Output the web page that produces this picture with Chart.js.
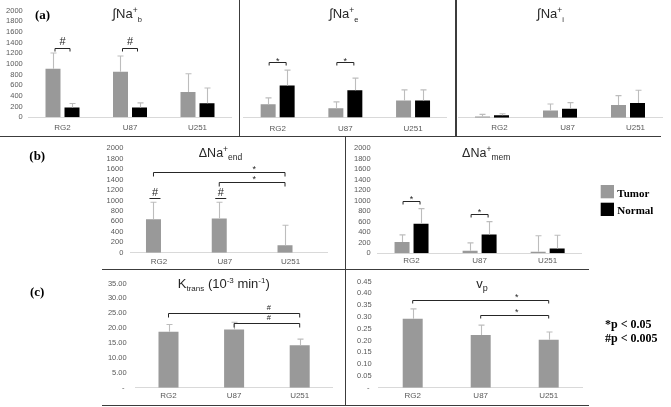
<!DOCTYPE html>
<html><head><meta charset="utf-8">
<script src="https://cdn.jsdelivr.net/npm/chart.js@4.4.0/dist/chart.umd.min.js"></script>
<style>
html,body{margin:0;padding:0;background:#fff;}
#fig{position:relative;width:671px;height:407px;overflow:hidden;background:#fff;}
canvas{position:absolute;}
.ln{position:absolute;background:#3c3c3c;}
</style></head><body>
<div id="fig">
<canvas id="a1" width="239" height="136" style="left:0px;top:0px"></canvas>
<canvas id="a2" width="215" height="136" style="left:240px;top:0px"></canvas>
<canvas id="a3" width="214" height="136" style="left:457px;top:0px"></canvas>
<canvas id="b1" width="345" height="132" style="left:0px;top:137px"></canvas>
<canvas id="b2" width="325" height="132" style="left:346px;top:137px"></canvas>
<canvas id="c1" width="345" height="135" style="left:0px;top:270px"></canvas>
<canvas id="c2" width="325" height="135" style="left:346px;top:270px"></canvas>
<div class="ln" style="left:238.5px;top:0px;width:1.5px;height:136.5px"></div>
<div class="ln" style="left:455px;top:0px;width:1.5px;height:136.5px"></div>
<div class="ln" style="left:0px;top:135.5px;width:661px;height:1.5px"></div>
<div class="ln" style="left:344.5px;top:136px;width:1.5px;height:269.5px"></div>
<div class="ln" style="left:102px;top:268.5px;width:487px;height:1.5px"></div>
<div class="ln" style="left:102px;top:404.5px;width:487px;height:1.5px"></div>
</div>
<script>
// ---------------- data ----------------
const categories = ['RG2', 'U87', 'U251'];
const groupNames = ['Tumor', 'Normal'];

const naBTumor = [907, 852, 474];
const naBTumorSD = [297, 296, 341];
const naBNormal = [185, 185, 265];
const naBNormalSD = [74, 85, 283];

const naETumor = [246, 172, 315];
const naETumorSD = [117, 117, 196];
const naENormal = [593, 506, 315];
const naENormalSD = [283, 222, 196];

const naITumor = [24, 135, 233];
const naITumorSD = [37, 117, 174];
const naINormal = [43, 167, 270];
const naINormalSD = [31, 111, 236];

const dNaEndTumor = [639, 657, 143];
const dNaEndTumorSD = [327, 309, 384];
const dNaEndNormal = [null, null, null];

const dNaMemTumor = [215, 48, 30];
const dNaMemTumorSD = [136, 150, 303];
const dNaMemNormal = [561, 357, 93];
const dNaMemNormalSD = [290, 246, 251];

const kTrans = [18.8, 19.55, 14.3];
const kTransSD = [2.45, 2.45, 2.0];
const vP = [0.2925, 0.223, 0.203];
const vPSD = [0.0415, 0.042, 0.033];

// axis ranges / tick steps
const naAxis = {max: 2000, step: 200};
const kAxis = {max: 35, step: 5};
const vAxis = {max: 0.45, step: 0.05};

// significance markers: [category, series] pairs and bracket level (data units)
const sigNaB = [
  {a: [0, 0], b: [0, 1], level: 1300, mark: '#'},
  {a: [1, 0], b: [1, 1], level: 1300, mark: '#'}
];
const sigNaE = [
  {a: [0, 0], b: [0, 1], level: 1030, mark: '*'},
  {a: [1, 0], b: [1, 1], level: 1030, mark: '*'}
];
const sigEnd = [
  {over: [0, 0], level: 1053, mark: '#'},
  {over: [1, 0], level: 1053, mark: '#'},
  {a: [0, 0], b: [2, 0], level: 1554, mark: '*', at: [1, 2]},
  {a: [1, 0], b: [2, 0], level: 1350, mark: '*', at: [1, 2]}
];
const sigMem = [
  {a: [0, 0], b: [0, 1], level: 1005, mark: '*'},
  {a: [1, 0], b: [1, 1], level: 752, mark: '*'}
];
const sigK = [
  {a: [0, 0], b: [2, 0], level: 25.24, mark: '#', at: [1, 2]},
  {a: [1, 0], b: [2, 0], level: 21.8, mark: '#', at: [1, 2]}
];
const sigV = [
  {a: [0, 0], b: [2, 0], level: 0.3706, mark: '*', at: [1, 2]},
  {a: [1, 0], b: [2, 0], level: 0.308, mark: '*', at: [1, 2]}
];
const pNotes = ['*p < 0.05', '#p < 0.005'];

// ---------------- styles ----------------
const SANS = '"Liberation Sans", Arial, Helvetica, sans-serif';
const SERIF = '"Liberation Serif", "Times New Roman", Times, serif';
const GRAY = '#999999', BLACK = '#000000', ERR = '#bdbdbd', INK = '#262626', TICK = '#595959';
Chart.defaults.font.family = SANS;

const DECO = {};

function drawRich(ctx, parts, cx, by, color) {
  let w = 0;
  const items = parts.map(([t, k, fs]) => {
    ctx.font = fs + 'px ' + SANS;
    const mw = ctx.measureText(t).width; w += mw;
    return {t, k, fs, mw};
  });
  const main = parts[0][2];
  let x = cx - w / 2;
  ctx.fillStyle = color; ctx.textAlign = 'left'; ctx.textBaseline = 'alphabetic';
  items.forEach(it => {
    ctx.font = it.fs + 'px ' + SANS;
    const dy = it.k === 'sup' ? -0.4 * main : it.k === 'sub' ? 0.26 * main : 0;
    ctx.fillText(it.t, x, by + dy);
    x += it.mw;
  });
}

const decoPlugin = {
  id: 'deco',
  afterDatasetsDraw(chart) {
    const ctx = chart.ctx, ys = chart.scales.y;
    chart.data.datasets.forEach((ds, di) => {
      if (!ds.errors) return;
      const meta = chart.getDatasetMeta(di);
      meta.data.forEach((bar, i) => {
        const v = ds.data[i], e = ds.errors[i];
        if (v == null || e == null) return;
        const yt = ys.getPixelForValue(v + e);
        const x = Math.round(bar.x) + 0.5;
        ctx.save();
        ctx.strokeStyle = ERR; ctx.lineWidth = 1.1;
        ctx.beginPath();
        ctx.moveTo(x, bar.y); ctx.lineTo(x, yt);
        ctx.moveTo(x - 3, yt); ctx.lineTo(x + 3, yt);
        ctx.stroke(); ctx.restore();
      });
    });
  },
  afterDraw(chart) {
    const d = DECO[chart.canvas.id]; if (!d) return;
    const ctx = chart.ctx, ys = chart.scales.y;
    const bx = (c, s) => chart.getDatasetMeta(s).data[c].x;
    ctx.save();
    (d.sig || []).forEach(m => {
      const y = Math.round(ys.getPixelForValue(m.level)) + 0.5;
      let sx;
      ctx.strokeStyle = INK; ctx.lineWidth = 1;
      ctx.beginPath();
      if (m.over) {
        const c = bx(m.over[0], m.over[1]) + 1.5;
        ctx.moveTo(c - 5.5, y); ctx.lineTo(c + 5.5, y);
        sx = c;
      } else {
        const ins = d.inset || 0, tk = d.tick || 3;
        const x1 = bx(m.a[0], m.a[1]) + ins, x2 = bx(m.b[0], m.b[1]) - ins;
        ctx.moveTo(x1, y + tk); ctx.lineTo(x1, y); ctx.lineTo(x2, y); ctx.lineTo(x2, y + tk);
        sx = m.at ? (bx(m.at[0], 0) + bx(m.at[1], 0)) / 2 + 2 : (x1 + x2) / 2;
      }
      ctx.stroke();
      const fs = m.over ? 11 : (m.mark === '#' ? d.hashSize : d.starSize);
      const gap = m.over ? 6.7 : d.gap;
      ctx.font = fs + 'px ' + SANS;
      ctx.fillStyle = INK; ctx.textAlign = 'center'; ctx.textBaseline = 'alphabetic';
      const k = m.mark === '#' ? 0.35 : 0.58;
      ctx.fillText(m.mark, sx, y - gap + k * fs);
    });
    if (d.title) drawRich(ctx, d.title.parts, d.title.x, d.title.y, INK);
    (d.texts || []).forEach(t => {
      ctx.font = t.font; ctx.fillStyle = '#000'; ctx.textAlign = 'left'; ctx.textBaseline = 'alphabetic';
      ctx.fillText(t.t, t.x, t.y);
    });
    if (d.legend) {
      const L = d.legend;
      chart.data.datasets.forEach((ds, i) => {
        const top = L.y + i * L.step;
        ctx.fillStyle = ds.backgroundColor;
        ctx.fillRect(L.x, top, L.box, L.box);
        ctx.fillStyle = '#000'; ctx.font = 'bold 11px ' + SERIF;
        ctx.textAlign = 'left'; ctx.textBaseline = 'alphabetic';
        ctx.fillText(ds.label, L.x + L.box + 3.3, top + 11.5);
      });
    }
    ctx.restore();
  }
};

function panel(id, cfg) {
  const datasets = cfg.series.map(s => ({
    label: s.label, data: s.data, errors: s.sd,
    backgroundColor: s.color, borderWidth: 0,
    categoryPercentage: cfg.catPct, barPercentage: cfg.barPct
  }));
  DECO[id] = cfg.deco;
  const yScale = {
    display: cfg.yShow, min: 0, max: cfg.axis.max,
    grid: {display: false, drawTicks: false}, border: {display: false},
    ticks: {stepSize: cfg.axis.step, autoSkip: false, color: TICK, font: {family: SANS, size: 7.5},
            padding: cfg.yPad || 0, callback: cfg.fmt}
  };
  if (cfg.yShow) yScale.afterFit = s => { s.width = cfg.yW; };
  return new Chart(document.getElementById(id), {
    type: 'bar',
    data: {labels: categories, datasets},
    options: {
      responsive: false, animation: false, events: [],
      layout: {padding: {left: cfg.pad[0], top: cfg.pad[1], right: cfg.pad[2], bottom: 0}},
      plugins: {legend: {display: false}, tooltip: {enabled: false}, title: {display: false}},
      scales: {
        x: {
          grid: {display: false, drawTicks: false},
          border: {display: true, color: '#d9d9d9', width: 1},
          ticks: {color: TICK, font: {family: SANS, size: 8}, padding: cfg.xPad,
                  labelOffset: cfg.labelOffset || 0, maxRotation: 0, autoSkip: false},
          afterFit: s => { s.height = cfg.xH; }
        },
        y: yScale
      }
    },
    plugins: [decoPlugin]
  });
}

const intFmt = v => String(v);
const fixFmt = v => (v === 0 ? '- ' : v.toFixed(2));
const labelFont = 'bold 13px ' + SERIF;

panel('a1', {
  series: [{label: groupNames[0], data: naBTumor, sd: naBTumorSD, color: GRAY},
           {label: groupNames[1], data: naBNormal, sd: naBNormalSD, color: BLACK}],
  axis: naAxis, fmt: intFmt, yShow: true, yW: 28.75, yPad: 6,
  pad: [0, 9.3, 7.75], xH: 18.7, xPad: 6, catPct: 0.563, barPct: 0.789,
  deco: {sig: sigNaB, inset: 2, tick: 3, gap: 7.6, hashSize: 11, starSize: 9,
         title: {parts: [['\u222BNa', 'n', 13], ['+', 'sup', 8.5], ['b', 'sub', 7.5]], x: 127.2, y: 18.3},
         texts: [{t: '(a)', x: 35, y: 18.5, font: labelFont}]}
});
panel('a2', {
  series: [{label: groupNames[0], data: naETumor, sd: naETumorSD, color: GRAY},
           {label: groupNames[1], data: naENormal, sd: naENormalSD, color: BLACK}],
  axis: naAxis, fmt: intFmt, yShow: false,
  pad: [3.8, 9.3, 8.1], xH: 18.5, xPad: 6, catPct: 0.561, barPct: 0.789,
  deco: {sig: sigNaE, inset: 1, tick: 3, gap: 4, hashSize: 11, starSize: 9,
         title: {parts: [['\u222BNa', 'n', 13], ['+', 'sup', 8.5], ['e', 'sub', 7.5]], x: 103.8, y: 18.3}}
});
panel('a3', {
  series: [{label: groupNames[0], data: naITumor, sd: naITumorSD, color: GRAY},
           {label: groupNames[1], data: naINormal, sd: naINormalSD, color: BLACK}],
  axis: naAxis, fmt: intFmt, yShow: false,
  pad: [1, 9.3, 9], xH: 18.3, xPad: 5.5, catPct: 0.559, barPct: 0.789, labelOffset: 7.5,
  deco: {sig: [], title: {parts: [['\u222BNa', 'n', 13], ['+', 'sup', 8.5], ['i', 'sub', 7.5]], x: 93.5, y: 18.3}}
});
panel('b1', {
  series: [{label: groupNames[0], data: dNaEndTumor, sd: dNaEndTumorSD, color: GRAY},
           {label: groupNames[1], data: dNaEndNormal, color: BLACK}],
  axis: naAxis, fmt: intFmt, yShow: true, yW: 130.1, yPad: 6.8,
  pad: [0, 8, 17.6], xH: 16.3, xPad: 4.2, catPct: 0.578, barPct: 0.789, labelOffset: -4,
  deco: {sig: sigEnd, inset: 0, tick: 4, gap: 5.4, hashSize: 11, starSize: 9,
         title: {parts: [['\u0394Na', 'n', 12.5], ['+', 'sup', 8.5], ['end', 'sub', 8.5]], x: 220.5, y: 19.7},
         texts: [{t: '(b)', x: 29.3, y: 22.7, font: labelFont}]}
});
panel('b2', {
  series: [{label: groupNames[0], data: dNaMemTumor, sd: dNaMemTumorSD, color: GRAY},
           {label: groupNames[1], data: dNaMemNormal, sd: dNaMemNormalSD, color: BLACK}],
  axis: naAxis, fmt: intFmt, yShow: true, yW: 31.5, yPad: 6.8,
  pad: [0, 8, 89.3], xH: 15.7, xPad: 2.6, catPct: 0.558, barPct: 0.789,
  deco: {sig: sigMem, inset: 1, tick: 3, gap: 5, hashSize: 11, starSize: 9,
         title: {parts: [['\u0394Na', 'n', 12.5], ['+', 'sup', 8.5], ['mem', 'sub', 8.5]], x: 140.2, y: 19.7},
         legend: {x: 254.7, y: 48, box: 13.3, step: 17.7}}
});
panel('c1', {
  series: [{label: groupNames[0], data: kTrans, sd: kTransSD, color: GRAY}],
  axis: kAxis, fmt: fixFmt, yShow: true, yW: 135.7, yPad: 9,
  pad: [0, 9, 12.5], xH: 17.3, xPad: 3.2, catPct: 1, barPct: 0.305,
  deco: {sig: sigK, inset: 0, tick: 4, gap: 6, hashSize: 7.5, starSize: 9,
         title: {parts: [['K', 'n', 13], ['trans', 'sub', 8], [' (10', 'n', 13], ['-3', 'sup', 8],
                         [' min', 'n', 13], ['-1', 'sup', 8], [')', 'n', 13]], x: 223.8, y: 17.7},
         texts: [{t: '(c)', x: 30, y: 26.3, font: labelFont}]}
});
panel('c2', {
  series: [{label: groupNames[0], data: vP, sd: vPSD, color: GRAY}],
  axis: vAxis, fmt: fixFmt, yShow: true, yW: 32.7, yPad: 7,
  pad: [0, 10, 88.3], xH: 17.3, xPad: 3.2, catPct: 1, barPct: 0.294,
  deco: {sig: sigV, inset: 0, tick: 3, gap: 5.7, hashSize: 9, starSize: 9,
         title: {parts: [['v', 'n', 13], ['p', 'sub', 9]], x: 136, y: 17.7},
         texts: [{t: pNotes[0], x: 259, y: 58, font: 'bold 12px ' + SERIF},
                 {t: pNotes[1], x: 259, y: 71.5, font: 'bold 12px ' + SERIF}]}
});
</script>
</body></html>
